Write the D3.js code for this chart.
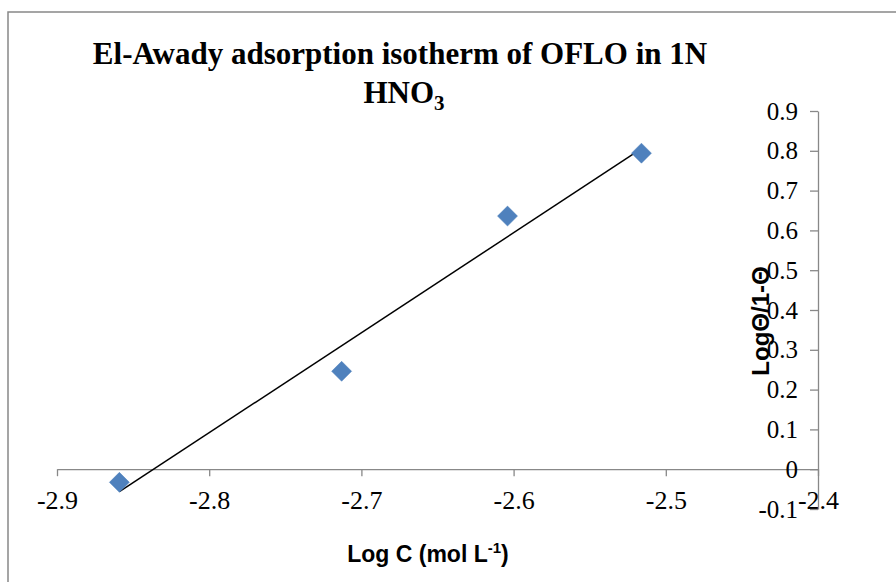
<!DOCTYPE html>
<html>
<head>
  <meta charset="utf-8">
  <script src="https://d3js.org/d3.v7.min.js"></script>
  <style>
    body { margin: 0; background: #fff; }
    svg { display: block; }
  </style>
</head>
<body>
  <svg width="896" height="582"></svg>
  <script>
    const logC = [-2.859, -2.713, -2.604, -2.516];
    const logTheta = [-0.033, 0.246, 0.636, 0.794];
    const xTicks = [-2.9, -2.8, -2.7, -2.6, -2.5, -2.4];
    const yTicks = [-0.1, 0, 0.1, 0.2, 0.3, 0.4, 0.5, 0.6, 0.7, 0.8, 0.9];

    const svg = d3.select("svg");

    // chart area border (only top and left show)
    svg.append("path")
      .attr("d", "M8,582 V12 H896")
      .attr("fill", "none")
      .attr("stroke", "#888")
      .attr("stroke-width", 1.5);

    const x = d3.scaleLinear().domain([-2.9, -2.4]).range([57, 818]);
    const y = d3.scaleLinear().domain([-0.1, 0.9]).range([509, 111]);

    // x axis sits at y = 0
    const gx = svg.append("g")
      .attr("transform", `translate(0,${y(0)})`)
      .call(d3.axisBottom(x).tickValues(xTicks).tickSize(7).tickSizeOuter(0));
    gx.select(".domain").attr("stroke", "#888").attr("stroke-width", 1.3);
    gx.selectAll(".tick line").attr("stroke", "#888").attr("stroke-width", 1.3);
    gx.selectAll(".tick text")
      .attr("y", 40)
      .attr("dy", 0)
      .attr("font-family", "Liberation Serif")
      .attr("font-size", 26)
      .attr("fill", "#000")
      .text(d => d3.format(".1f")(d).replace("−", "-"));

    // y axis sits at x = -2.4
    const gy = svg.append("g")
      .attr("transform", `translate(${x(-2.4)},0)`)
      .call(d3.axisLeft(y).tickValues(yTicks).tickSize(8).tickSizeOuter(0));
    gy.select(".domain").attr("stroke", "#888").attr("stroke-width", 1.3);
    gy.selectAll(".tick line").attr("stroke", "#888").attr("stroke-width", 1.3);
    gy.selectAll(".tick text")
      .attr("x", -20)
      .attr("font-family", "Liberation Serif")
      .attr("font-size", 25)
      .attr("fill", "#000")
      .text(d => d === 0 ? "0" : d3.format(".1f")(d).replace("−", "-"));

    // linear trendline (least squares over the points)
    const mx = d3.mean(logC), my = d3.mean(logTheta);
    const slope = d3.sum(logC, (v, i) => (v - mx) * (logTheta[i] - my)) /
      d3.sum(logC, v => (v - mx) ** 2);
    const icpt = my - slope * mx;
    const x0 = d3.min(logC), x1 = d3.max(logC);
    svg.append("line")
      .attr("x1", x(x0)).attr("y1", y(slope * x0 + icpt))
      .attr("x2", x(x1)).attr("y2", y(slope * x1 + icpt))
      .attr("stroke", "#000")
      .attr("stroke-width", 1.5);

    // diamond markers
    svg.append("g")
      .selectAll("path")
      .data(logC.map((v, i) => [v, logTheta[i]]))
      .join("path")
      .attr("transform", d => `translate(${x(d[0])},${y(d[1])})`)
      .attr("d", "M0,-10 L10,0 L0,10 L-10,0 Z")
      .attr("fill", "#4f81bd")
      .attr("stroke", "#4a7ebb")
      .attr("stroke-width", 0.5);

    // title
    const title = svg.append("text")
      .attr("text-anchor", "middle")
      .attr("font-family", "Liberation Serif")
      .attr("font-weight", "bold")
      .attr("font-size", 31)
      .attr("fill", "#000");
    title.append("tspan").attr("x", 400).attr("y", 64)
      .text("El-Awady adsorption isotherm of OFLO in 1N");
    title.append("tspan").attr("x", 404).attr("y", 103).text("HNO");
    title.append("tspan").attr("dy", 7).attr("font-size", 21).text("3");

    // axis titles
    const xt = svg.append("text")
      .attr("x", 428).attr("y", 562)
      .attr("text-anchor", "middle")
      .attr("font-family", "Liberation Sans")
      .attr("font-weight", "bold")
      .attr("font-size", 23)
      .attr("fill", "#000");
    xt.append("tspan").text("Log C (mol L");
    xt.append("tspan").attr("dy", -9).attr("font-size", 15).text("-1");
    xt.append("tspan").attr("dy", 9).text(")");

    svg.append("text")
      .attr("transform", "translate(769,321) rotate(-90)")
      .attr("text-anchor", "middle")
      .attr("font-family", "Liberation Sans")
      .attr("font-weight", "bold")
      .attr("font-size", 24)
      .attr("fill", "#000")
      .text("LogΘ/1-Θ");
  </script>
</body>
</html>
